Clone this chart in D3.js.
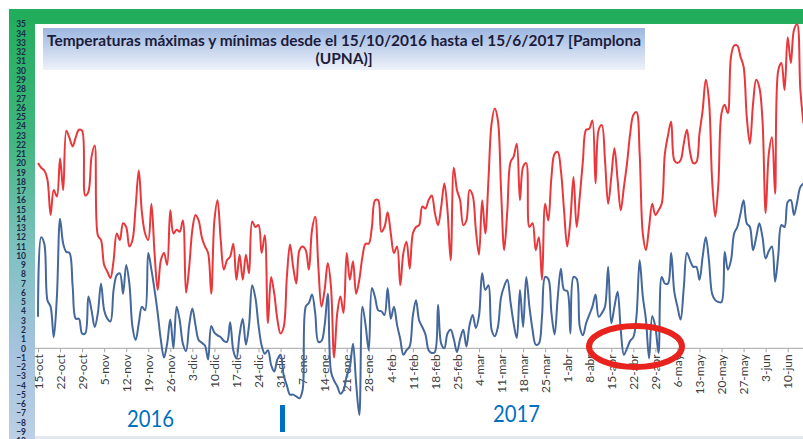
<!DOCTYPE html>
<html>
<head>
<meta charset="utf-8">
<script src="https://cdn.jsdelivr.net/npm/d3@7"></script>
<style>
  body { margin: 0; background: #fff; }
  svg { display: block; }
</style>
</head>
<body>
<div id="viz"></div>
<script>
// datos diarios 15/10/2016 .. 15/6/2017
var startDay = "2016-10-15";

var tmax = [
  20.0, 19.5, 19.2, 18.2, 14.4, 17.1, 16.4, 20.5, 17.1, 23.5,
  22.7, 21.8, 22.8, 23.6, 23.5, 16.5, 16.9, 20.7, 21.9, 12.2,
  11.7, 9.0, 8.3, 7.6, 9.5, 12.4, 11.7, 13.5, 13.1, 11.0,
  11.7, 15.3, 19.2, 14.6, 12.4, 11.7, 15.6, 10.3, 6.3, 9.5,
  10.3, 9.0, 14.9, 12.4, 12.8, 12.6, 13.8, 6.0, 8.8, 12.8,
  14.4, 13.8, 12.0, 11.0, 10.3, 5.9, 13.8, 16.0, 11.7, 8.5,
  9.5, 9.9, 11.3, 7.4, 10.1, 7.4, 10.1, 8.1, 13.7, 13.1,
  13.3, 10.3, 12.2, 2.7, 7.7, 5.9, 3.1, 1.6, 2.3, 7.7,
  11.2, 8.8, 7.0, 10.6, 11.0, 10.6, 8.5, 12.8, 14.2, 8.8,
  4.5, 6.3, 9.2, 6.7, -1.0, 3.8, 5.6, 3.8, 10.3, 7.4,
  9.4, 5.9, 7.4, 9.9, 11.3, 11.3, 13.1, 16.0, 16.0, 12.6,
  13.1, 14.7, 12.4, 10.3, 11.0, 6.8, 10.3, 11.5, 8.6, 12.4,
  13.1, 13.3, 15.3, 15.1, 16.0, 16.5, 14.6, 13.3, 15.3, 17.8,
  14.9, 9.5, 19.5, 17.1, 16.0, 13.3, 13.8, 17.1, 16.5, 12.8,
  10.1, 16.0, 12.4, 18.2, 24.3, 25.9, 24.6, 17.1, 10.6, 14.9,
  20.1, 20.7, 22.1, 16.0, 19.6, 20.0, 13.1, 13.5, 10.6, 12.0,
  7.4, 15.6, 13.8, 18.5, 21.0, 21.2, 19.2, 14.9, 11.0, 13.8,
  18.5, 13.1, 16.4, 20.3, 23.6, 23.7, 24.6, 17.8, 23.6, 24.1,
  20.3, 15.6, 18.5, 21.6, 18.2, 14.9, 17.4, 20.0, 23.2, 25.2,
  25.5, 21.0, 12.4, 10.6, 13.1, 15.6, 14.4, 14.9, 15.6, 21.0,
  23.0, 24.5, 20.3, 20.0, 20.3, 22.1, 23.6, 21.2, 20.0, 20.1,
  23.2, 25.7, 29.0, 26.8, 18.2, 14.2, 17.8, 25.4, 26.3, 25.4,
  31.5, 32.7, 32.7, 31.5, 30.4, 25.0, 22.1, 26.4, 29.0, 28.2,
  24.6, 14.6, 21.0, 22.8, 16.7, 30.0, 30.8, 27.9, 33.6, 30.8,
  34.4, 35.0, 28.0, 24.3
];

var tmin = [
  3.4, 12.0, 11.3, 5.2, 4.5, 1.2, 5.6, 14.0, 11.3, 10.4,
  10.3, 6.7, 3.2, 3.2, 1.6, 1.6, 5.6, 4.1, 2.3, 3.8,
  7.0, 4.1, 3.2, 2.9, 6.3, 7.9, 8.1, 5.9, 9.0, 7.0,
  2.3, 0.9, 2.7, 4.5, 4.1, 10.3, 8.5, 6.3, 3.8, 0.9,
  -1.0, 0.5, 3.1, 0.0, 4.5, 3.0, 0.5, -0.3, 2.5, 4.3,
  2.5, 0.9, 0.6, 0.3, -1.2, 2.4, 1.7, 1.4, 1.2, 0.8,
  0.7, 2.8, -0.2, -1.1, 1.5, 3.2, 0.4, 2.5, 6.8, 5.5,
  2.5, 0.3, -0.6, -0.2, -1.8, -2.5, -1.2, -0.7, -2.9, -4.0,
  -5.0, -5.0, -5.2, -5.4, -4.5, 4.5, 4.9, 5.8, 3.8, 0.7,
  0.8, 2.5, 5.9, -2.5, -3.5, -4.1, -4.9, -4.5, -3.0, -2.0,
  0.5, -3.8, -7.2, 4.5, 2.5, -0.2, 6.5, 5.5, 4.1, 4.0,
  3.6, 6.5, 3.2, 4.5, 2.5, 1.0, -0.7, -0.2, 0.2, 3.5,
  5.2, 3.0, 2.3, 1.5, -0.2, -0.5, -0.4, 4.7, 0.5, 0.0,
  1.6, 2.0, 1.0, -0.4, 1.0, 2.0, 0.2, 2.5, 3.6, 2.2,
  3.5, 8.1, 6.3, 6.8, 2.0, 1.3, 2.3, 5.5, 6.7, 7.4,
  5.0, 2.7, 1.1, 6.3, 2.3, 7.7, 4.5, 2.0, 0.4, 0.5,
  3.4, 7.7, 7.5, 3.8, 1.5, 5.5, 8.6, 6.3, 6.2, 1.6,
  7.7, 7.5, 2.3, 1.4, 2.7, 3.6, 4.5, 5.8, 3.4, 3.8,
  4.5, 8.8, 2.7, 4.5, 6.1, 2.0, -0.7, 0.0, 0.8, 1.2,
  3.5, 9.5, 5.6, 3.1, -1.1, 3.5, 2.3, -0.5, 7.7, 7.0,
  7.0, 10.3, 6.1, 4.5, 3.1, 6.5, 10.3, 9.5, 8.8, 8.8,
  7.4, 9.9, 12.0, 9.5, 5.9, 5.2, 5.0, 5.0, 10.4, 8.5,
  9.5, 12.4, 13.1, 14.5, 16.0, 13.5, 13.1, 10.6, 12.0, 13.5,
  12.0, 9.7, 10.5, 11.0, 7.2, 10.0, 13.3, 13.1, 15.8, 16.0,
  14.4, 15.8, 17.4, 17.8
];

var yMin = -10, yMax = 35;
var monthNames = ["ene", "feb", "mar", "abr", "may", "jun", "jul", "ago", "sep", "oct", "nov", "dic"];
var titleLines = ["Temperaturas máximas y mínimas desde el 15/10/2016 hasta el 15/6/2017 [Pamplona", "(UPNA)]"];
var yearLabels = ["2016", "2017"];

var W = 803, H = 439;

var parseDate = d3.timeParse("%Y-%m-%d");
var start = parseDate(startDay);
var dates = tmax.map(function(d, i) { return d3.timeDay.offset(start, i); });

var x = d3.scaleTime()
    .domain([start, dates[dates.length - 1]])
    .range([38, 38 + 3.15 * (dates.length - 1)]);

var y = d3.scaleLinear()
    .domain([yMin, yMax])
    .range([348.3 - yMin * 9.26, 348.3 - yMax * 9.26]);

var svg = d3.select("#viz").append("svg")
    .attr("width", W)
    .attr("height", H);

var defs = svg.append("defs");

var gPanel = defs.append("linearGradient")
    .attr("id", "panel").attr("x1", 0).attr("y1", 0).attr("x2", 0).attr("y2", 1);
gPanel.append("stop").attr("offset", "0%").attr("stop-color", "#22ad5c");
gPanel.append("stop").attr("offset", "30%").attr("stop-color", "#40b67e");
gPanel.append("stop").attr("offset", "55%").attr("stop-color", "#7cc1bf");
gPanel.append("stop").attr("offset", "80%").attr("stop-color", "#a6c3df");
gPanel.append("stop").attr("offset", "100%").attr("stop-color", "#bccfe6");

var gTitle = defs.append("linearGradient")
    .attr("id", "titlebox").attr("x1", 0).attr("y1", 0).attr("x2", 0).attr("y2", 1);
gTitle.append("stop").attr("offset", "0%").attr("stop-color", "#9cb6e0");
gTitle.append("stop").attr("offset", "100%").attr("stop-color", "#eef2fa");

defs.append("clipPath").attr("id", "plotclip")
  .append("rect").attr("x", 35).attr("y", 22).attr("width", W - 35).attr("height", 414);

// marco verde
svg.append("rect")
    .attr("x", 9).attr("y", 9).attr("width", W - 9).attr("height", H - 9)
    .attr("fill", "url(#panel)");
svg.append("rect")
    .attr("x", 9).attr("y", 9).attr("width", W - 9).attr("height", 14)
    .attr("fill", "#22ad5c");

// area de trazado
svg.append("rect")
    .attr("x", 35).attr("y", 24).attr("width", W - 35).attr("height", 412)
    .attr("fill", "#ffffff");
svg.append("rect")
    .attr("x", 35).attr("y", 436).attr("width", W - 35).attr("height", 3)
    .attr("fill", "#e3e8ee");

// titulo
svg.append("rect")
    .attr("x", 43).attr("y", 28).attr("width", 602).attr("height", 42)
    .attr("fill", "url(#titlebox)");

svg.append("text")
    .attr("x", 47).attr("y", 46)
    .attr("textLength", 594).attr("lengthAdjust", "spacingAndGlyphs")
    .style("font-family", "Lato, 'Open Sans', sans-serif")
    .style("font-weight", "bold").style("font-size", "15.5px")
    .attr("fill", "#1c1c3c")
    .text(titleLines[0]);
svg.append("text")
    .attr("x", 344).attr("y", 64)
    .attr("text-anchor", "middle")
    .style("font-family", "Lato, 'Open Sans', sans-serif")
    .style("font-weight", "bold").style("font-size", "15.5px")
    .attr("fill", "#1c1c3c")
    .text(titleLines[1]);

// eje Y (en el panel verde)
var yAxis = d3.axisLeft(y)
    .tickValues(d3.range(yMin, yMax + 1))
    .tickSize(0)
    .tickPadding(0);

var gy = svg.append("g")
    .attr("transform", "translate(26,0)")
    .call(yAxis);
gy.select(".domain").remove();
gy.selectAll("text")
    .style("font-family", "Lato, 'Open Sans', sans-serif")
    .style("font-weight", "bold").style("font-size", "8.5px")
    .attr("fill", "#1b2a4a");

// eje X en el cero
var xAxis = d3.axisBottom(x)
    .tickValues(d3.timeSaturday.range(start, d3.timeDay.offset(dates[dates.length - 1], 1)))
    .tickSizeInner(4).tickSizeOuter(0)
    .tickFormat(function(d) { return d.getDate() + "-" + monthNames[d.getMonth()]; });

var gx = svg.append("g")
    .attr("transform", "translate(0," + y(0) + ")")
    .call(xAxis);
gx.select(".domain")
    .attr("d", "M35,0H" + W)
    .attr("stroke", "#a6a6a6");
gx.selectAll(".tick line").attr("stroke", "#a6a6a6");
gx.selectAll("text")
    .style("font-family", "Lato, 'Open Sans', sans-serif")
    .style("font-size", "12px")
    .attr("fill", "#404040")
    .style("text-anchor", "end")
    .attr("x", -6).attr("y", 0)
    .attr("dx", 0).attr("dy", "0.35em")
    .attr("transform", "rotate(-90)");

// lineas
var line = d3.line()
    .x(function(d, i) { return x(dates[i]); })
    .y(function(d) { return y(d); })
    .curve(d3.curveCatmullRom.alpha(0.5));

var plot = svg.append("g").attr("clip-path", "url(#plotclip)");

plot.append("path")
    .datum(tmin)
    .attr("d", line)
    .attr("fill", "none")
    .attr("stroke", "#44679c")
    .attr("stroke-width", 2);

plot.append("path")
    .datum(tmax)
    .attr("d", line)
    .attr("fill", "none")
    .attr("stroke", "#e8383c")
    .attr("stroke-width", 2);

// anotaciones
svg.append("ellipse")
    .attr("cx", 635.5).attr("cy", 346.5)
    .attr("rx", 46.5).attr("ry", 20.5)
    .attr("fill", "none")
    .attr("stroke", "#e8231d")
    .attr("stroke-width", 6);

svg.append("rect")
    .attr("x", 280).attr("y", 405).attr("width", 5).attr("height", 27)
    .attr("fill", "#0070c0");

svg.selectAll("text.year")
    .data(yearLabels)
    .enter().append("text")
    .attr("class", "year")
    .attr("x", function(d, i) { return i === 0 ? 127 : 493; })
    .attr("y", function(d, i) { return i === 0 ? 427 : 422; })
    .attr("textLength", 47).attr("lengthAdjust", "spacingAndGlyphs")
    .style("font-family", "Lato, 'Open Sans', sans-serif")
    .style("font-size", "23px")
    .attr("fill", "#0070c0")
    .text(function(d) { return d; });
</script>
</body>
</html>
